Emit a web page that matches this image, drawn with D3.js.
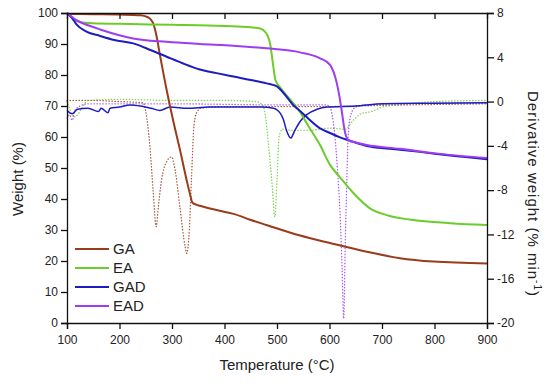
<!DOCTYPE html>
<html>
<head>
<meta charset="utf-8">
<script src="https://cdn.jsdelivr.net/npm/d3@7"></script>
<style>
  body { margin: 0; background: #fff; }
  text { font-family: "Liberation Sans", Arial, sans-serif; fill: #222; }
</style>
</head>
<body>
<svg id="chart" width="550" height="385"></svg>
<script>
// weight curves (left axis, %)
var gaWT  = [100,150,200,240,250,258,264,270,277,290,302,315,328,334,339,346,353,391,417,449,480,544,601,671,734,798,900];
var gaW   = [99.7,99.6,99.5,99.3,98.9,98.2,96.7,93,86.5,75,65.5,56,46,41.8,38.8,38.2,37.8,36.2,35.2,33.3,31.6,28.2,25.8,23,20.9,19.8,19.2];
var eaWT  = [100,110,120,140,200,300,400,450,468,478,487,493,497,506,518,544,560,582,601,620,645,677,709,772,830,900];
var eaW   = [100,98.5,97.3,96.8,96.5,96.2,95.8,95.4,95,93.8,90,82.7,78.4,76,73.5,68,63.5,57.4,51,47,42,37,34.8,33,32.2,31.6];
var gadWT = [100,110,118,137,163,190,226,260,290,320,353,385,417,450,480,500,506,518,531,544,556,582,601,620,639,677,734,772,830,900];
var gadW  = [100,98.3,96.3,94,92.6,91.3,90.2,88,85.9,83.8,81.8,80.6,79.5,78.4,77.3,76.3,75.4,73,70.3,68.4,66.5,62.8,61.3,59.9,58.8,56.9,55.9,55.2,54,52.8];
var eadWT = [100,118,144,163,226,290,353,417,480,544,582,601,614,619,623,630,636,650,671,734,798,900];
var eadW  = [100,97.7,95.8,94.7,91.8,90.7,90,89.4,88.6,87.3,85.4,83.3,77.3,73,68.7,61.2,59,58.2,57.4,56.2,54.8,53.2];

// derivative curves (right axis, % min-1)
var gaDT  = [100,150,200,245,250,258,264,270,274,280,290,299,306,315,325,328,333,337,342,347,355,400,500,600,650,750,900];
var gaD   = [0.1,0.1,0,-0.1,-0.9,-4.1,-8,-11.3,-9.5,-7.1,-5.4,-5.0,-6.2,-9.5,-13.1,-13.7,-11.6,-7.1,-2.1,-1.0,-0.6,-0.45,-0.45,-0.45,-0.4,-0.3,-0.2];
var eaDT  = [100,105,112,120,128,140,200,300,400,460,472,477,483,490,496,500,504,510,530,560,600,630,645,660,680,700,720,750,800,900];
var eaD   = [0,-0.6,-1.4,-1.2,-0.6,0.1,0.2,0.1,0.1,0,-0.3,-1,-3.5,-7.1,-10.4,-7.1,-3.2,-2.5,-2.6,-2.6,-2.4,-2.5,-1.7,-1.1,-0.9,-0.5,-0.35,-0.2,0,0.1];
var gadDT = [100,110,120,140,160,165,178,182,200,220,240,260,277,296,330,370,420,470,493,506,512,518,526,534,544,556,576,595,650,702,800,900];
var gadD  = [-0.8,-1.1,-0.7,-0.6,-0.9,-0.6,-1.0,-0.6,-0.5,-0.3,-0.4,-0.6,-0.8,-0.5,-0.6,-0.5,-0.5,-0.5,-0.6,-1.05,-1.6,-2.6,-3.3,-2.6,-1.8,-1.2,-0.7,-0.5,-0.4,-0.2,-0.15,-0.1];
var eadDT = [100,105,110,115,125,140,300,500,590,600,605,610,615,620,624,627,630,633,636,642,650,670,900];
var eadD  = [-1.5,-1.2,-1.7,-0.8,-0.4,-0.2,-0.2,-0.3,-0.3,-0.4,-1.2,-3,-6,-10,-15,-19.6,-13,-7,-2.8,-1.0,-0.5,-0.3,-0.1];

var names  = ["GA", "EA", "GAD", "EAD"];
var colors = ["#9a3b1b", "#6ccc2a", "#1c1cc0", "#9d3cf0"];

var xTicks  = [100,200,300,400,500,600,700,800,900];
var yTicks  = [0,10,20,30,40,50,60,70,80,90,100];
var y2Ticks = [8,4,0,-4,-8,-12,-16,-20];

var svg = d3.select("#chart"),
    margin = {top: 13, right: 63, bottom: 62, left: 67},
    width = +svg.attr("width") - margin.left - margin.right,
    height = +svg.attr("height") - margin.top - margin.bottom,
    g = svg.append("g").attr("transform", "translate(" + margin.left + "," + margin.top + ")");

var x = d3.scaleLinear().domain([100, 900]).range([0, width]);
var y = d3.scaleLinear().domain([0, 100]).range([height, 0]);
var y2 = d3.scaleLinear().domain([-20, 8]).range([height, 0]);

function pairs(ts, vs) {
  return ts.map(function(t, i) { return [t, vs[i]]; });
}

var lineW = d3.line()
    .x(function(d) { return x(d[0]); })
    .y(function(d) { return y(d[1]); })
    .curve(d3.curveMonotoneX);

var lineD = d3.line()
    .x(function(d) { return x(d[0]); })
    .y(function(d) { return y2(d[1]); })
    .curve(d3.curveMonotoneX);

// derivative curves, dotted (GAD one is plotted as a thin solid line)
var derivs = [pairs(gaDT, gaD), pairs(eaDT, eaD), pairs(gadDT, gadD), pairs(eadDT, eadD)];
[0, 1, 3, 2].forEach(function(i) {
  var p = g.append("path")
      .datum(derivs[i])
      .attr("fill", "none")
      .attr("stroke", colors[i])
      .attr("d", lineD);
  if (i === 2) {
    p.attr("stroke-width", 1.5);
  } else {
    p.attr("stroke-width", 1.3)
     .attr("stroke-linecap", "round")
     .attr("stroke-dasharray", "0.4,2.6")
     .attr("opacity", 0.85);
  }
});

// weight curves
var weights = [pairs(gaWT, gaW), pairs(eaWT, eaW), pairs(gadWT, gadW), pairs(eadWT, eadW)];
weights.forEach(function(w, i) {
  g.append("path")
      .datum(w)
      .attr("fill", "none")
      .attr("stroke", colors[i])
      .attr("stroke-width", 2)
      .attr("stroke-linejoin", "round")
      .attr("d", lineW);
});

// axes (plain hyphen for negatives, like the original)
var plain = function(d) { return String(d); };

g.append("g")
    .attr("transform", "translate(0," + height + ")")
    .call(d3.axisBottom(x).tickValues(xTicks).tickSize(6).tickPadding(6).tickFormat(plain));

g.append("g")
    .call(d3.axisTop(x).tickValues(xTicks).tickSizeInner(-6).tickSizeOuter(0).tickFormat(""));

g.append("g")
    .call(d3.axisLeft(y).tickValues(yTicks).tickSize(6).tickPadding(3).tickFormat(plain));

g.append("g")
    .attr("transform", "translate(" + width + ",0)")
    .call(d3.axisRight(y2).tickValues(y2Ticks).tickSize(7).tickPadding(3).tickFormat(plain));

g.selectAll(".tick text").attr("font-size", 12).attr("fill", "#222")
    .attr("font-family", '"Liberation Sans", Arial, sans-serif');
g.selectAll(".domain, .tick line").attr("stroke", "#111").attr("stroke-width", 1.3);

// axis titles
svg.append("text")
    .attr("x", margin.left + width / 2)
    .attr("y", 370)
    .attr("text-anchor", "middle")
    .attr("font-size", 15)
    .text("Temperature (°C)");

svg.append("text")
    .attr("transform", "translate(23,179) rotate(-90)")
    .attr("text-anchor", "middle")
    .attr("font-size", 15)
    .text("Weight (%)");

var rt = svg.append("text")
    .attr("transform", "translate(528,194) rotate(90)")
    .attr("text-anchor", "middle")
    .attr("font-size", 15)
    .attr("letter-spacing", 1.0);
rt.append("tspan").text("Derivative weight (% min");
rt.append("tspan").attr("font-size", 10).attr("dy", -6).text("-1");
rt.append("tspan").attr("dy", 6).text(")");

// legend
var legend = svg.append("g").attr("transform", "translate(75,249)");
names.forEach(function(n, i) {
  legend.append("line")
      .attr("x1", 0).attr("x2", 34)
      .attr("y1", i * 19).attr("y2", i * 19)
      .attr("stroke", colors[i])
      .attr("stroke-width", 1.8);
  legend.append("text")
      .attr("x", 38)
      .attr("y", i * 19)
      .attr("dy", "0.36em")
      .attr("font-size", 15)
      .text(n);
});
</script>
</body>
</html>
